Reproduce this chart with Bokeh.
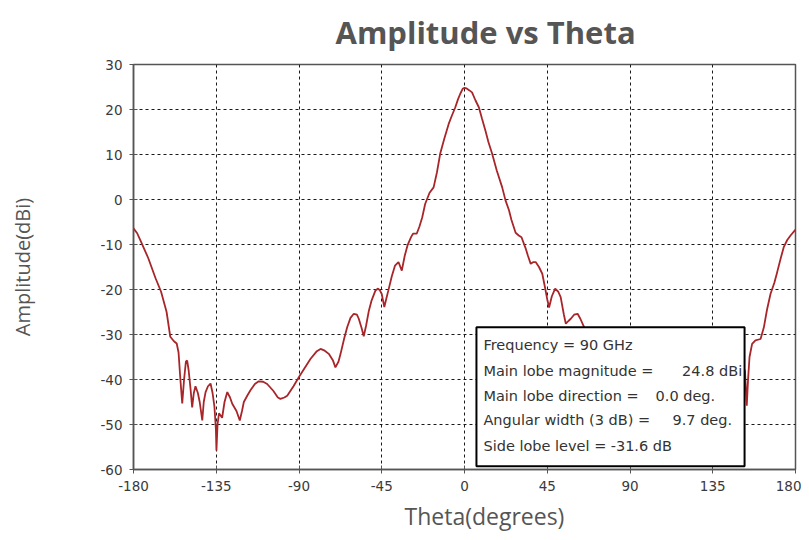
from bokeh.plotting import figure
from bokeh.models import FixedTicker, BoxAnnotation, Label, Range1d, Title
from bokeh.embed import file_html
from bokeh.resources import INLINE

# ---- data ----
theta = [-180, -178, -176, -172, -168, -165, -162, -160, -158, -156.5, -155.5, -154.5,
         -153.5, -152.5, -151.5, -150.8, -150, -149, -148.1, -147.2, -146.3, -145, -144,
         -142.6, -141.8, -140.8, -139.5, -138.1, -137, -136, -135.2, -134.9, -134.3,
         -133.5, -131.8, -130.5, -129, -127.5, -126.3, -124, -122.2, -121, -120, -118,
         -116.4, -114, -111.9, -109.5, -107.3, -104, -101.5, -100.1, -98, -96.4, -93,
         -90.1, -87, -83.7, -80.5, -78.3, -76, -73.8, -71.5, -70.2, -68.5, -67.4, -65.5,
         -63.8, -62, -60.2, -58.5, -57.5, -56, -54.8, -53.5, -52, -50.5, -48.4, -47, -46,
         -45, -43.6, -42.5, -41.4, -39.5, -37.8, -35.9, -34.1, -32.5, -31, -29, -28, -26,
         -24.5, -23, -21.4, -19, -16.8, -15, -13.2, -11, -8.6, -7, -5, -3.5, -2.3, -1, 0,
         1, 2.5, 4.1, 6, 7.8, 9.5, 11.4, 13, 15, 17.5, 20.5, 22.3, 24.2, 25.5, 27.8, 29.5,
         31, 33.2, 34.5, 36, 37.5, 38.7, 40.5, 42.3, 44, 45.1, 46, 47.5, 49.3, 51, 52.3,
         54, 55.1, 56.5, 57.8, 59.6, 61.5, 63, 65.1, 70, 75, 80, 85, 90, 95, 100, 105,
         110, 115, 120, 125, 130, 135, 140, 145, 150, 152.5, 153.5, 154.2, 155, 156.4,
         158.2, 161, 162.8, 164.5, 166.4, 168.5, 170, 172, 173.6, 175.5, 177.3, 180]
amplitude = [-6.4, -7.5, -9.3, -13, -17.5, -20.5, -25, -30.5, -31.5, -32, -34, -40,
             -45.3, -40, -36, -35.8, -38, -42, -46.2, -43, -41.5, -43, -45,
             -49.1, -45, -42.8, -41.5, -40.9, -43, -46, -51, -55.8, -50,
             -47.5, -48.5, -45, -42.8, -44, -45.4, -47, -49.1, -47, -45, -43.5,
             -42.4, -41, -40.4, -40.5, -41, -42.5, -44, -44.3, -44, -43.6, -41.5,
             -39.5, -37.5, -35.4, -33.8, -33.2, -33.6, -34.3, -35.8, -37.3, -36, -34.3, -31,
             -28.4, -26.3, -25.4, -25.6, -26.5, -28.5, -30.4, -28, -24.7, -22.4, -20.2, -19.8, -20.2,
             -21, -23.9, -22, -20.2, -17, -14.7, -13.9, -15.8, -12.5, -10.2, -8.3, -7.6, -7.6,
             -6, -4, -1, 1.5, 2.7, 6, 10.2, 13.5, 16.8, 18.5, 20.5, 22.3, 23.5, 24.6, 24.8,
             24.7, 24.3, 23.8, 22, 20.5, 18, 15.3, 12.8, 10.2, 6.5, 2.7, -0.2, -2.4, -4.5, -7.4, -8,
             -8.4, -10.8, -12.5, -14.3, -13.9, -13.9, -15, -16.5, -20, -22.4, -24, -21.5, -19.8, -20.5, -21.7,
             -25.5, -27.6, -27, -26.5, -25.6, -25.4, -26.5, -28.4, -32, -35, -33, -36, -40, -38, -42, -40,
             -44, -41, -43, -40, -42, -39, -41, -38, -37, -38, -45.8, -40, -35, -32.1,
             -31.3, -31, -28.4, -24.5, -21, -18.5, -16.2, -13, -10.6, -9, -8, -6.7]

x_ticks = [-180, -135, -90, -45, 0, 45, 90, 135, 180]
y_ticks = [-60, -50, -40, -30, -20, -10, 0, 10, 20, 30]

info_labels = ["Frequency = 90 GHz", "Main lobe magnitude =", "Main lobe direction =",
               "Angular width (3 dB) =", "Side lobe level ="]
info_values = ["", "24.8 dBi", "0.0 deg.", "9.7 deg.", "-31.6 dB"]

# ---- figure ----
p = figure(width=801, height=536, output_backend="svg", toolbar_location=None,
           x_range=Range1d(-180, 180), y_range=Range1d(-60, 30),
           min_border_left=133, min_border_right=6, min_border_top=64, min_border_bottom=67,
           title="Amplitude vs Theta")
p.background_fill_color = "white"
p.border_fill_color = "white"

p.title.text_font = "Open Sans"
p.title.text_font_style = "bold"
p.title.text_font_size = "31px"
p.title.text_color = "#555555"
p.title.align = "left"
p.title.offset = 202
p.title.standoff = 19
p.title.vertical_align = "top"

p.outline_line_color = "#555555"
p.outline_line_width = 1.5

for ax in (p.xaxis, p.yaxis):
    ax.axis_line_color = "#555555"
    ax.axis_line_width = 1.5
    ax.major_tick_line_color = "#555555"
    ax.major_tick_in = 4
    ax.major_tick_out = 4
    ax.minor_tick_line_color = None
    ax.major_label_text_font = "DejaVu Sans"
    ax.major_label_text_font_size = "13.5px"
    ax.major_label_text_color = "#3a3a3a"
    ax.major_label_standoff = 7
    ax.axis_label_text_font = "Open Sans"
    ax.axis_label_text_font_style = "normal"
    ax.axis_label_text_color = "#555555"

p.xaxis.ticker = FixedTicker(ticks=x_ticks)
p.yaxis.ticker = FixedTicker(ticks=y_ticks)
p.xaxis.major_label_overrides = {t: str(t) for t in x_ticks}
p.yaxis.major_label_overrides = {t: str(t) for t in y_ticks}
p.yaxis.axis_label = "Amplitude(dBi)"
p.yaxis.axis_label_text_font_size = "20px"
p.yaxis.axis_label_standoff = 61

# x axis title (placed slightly right of centre, as in the reference)
xtitle = Title(text="Theta(degrees)", text_font="Open Sans", text_font_size="23px",
               text_font_style="normal", text_color="#555555",
               align="left", offset=271, standoff=9)
p.add_layout(xtitle, "below")

for g in (p.xgrid, p.ygrid):
    g.grid_line_color = "#1a1a1a"
    g.grid_line_dash = "3 3"
    g.grid_line_width = 1

p.line(theta, amplitude, line_color="#a8262a", line_width=1.8)

# info box
box = BoxAnnotation(left=6.5, right=152.3, top=-28.4, bottom=-59.3,
                    fill_color="white", fill_alpha=1.0,
                    line_color="black", line_alpha=1.0, line_width=2)
p.add_layout(box)

row_y = [-32.4, -38.0, -43.6, -49.1, -54.7]
for txt, yy in zip(info_labels, row_y):
    p.add_layout(Label(x=10.3, y=yy, text=txt, text_font="DejaVu Sans",
                       text_font_size="14.5px", text_color="#333333",
                       text_baseline="middle", text_align="left"))
val_x = [None, 151.0, 103.9, 113.1, 79.5]
val_align = [None, "right", "left", "left", "left"]
for txt, yy, xx, al in zip(info_values, row_y, val_x, val_align):
    if txt:
        p.add_layout(Label(x=xx, y=yy, text=txt, text_font="DejaVu Sans",
                           text_font_size="14.5px", text_color="#333333",
                           text_baseline="middle", text_align=al))

open("out.html", "w").write(file_html(p, INLINE))
